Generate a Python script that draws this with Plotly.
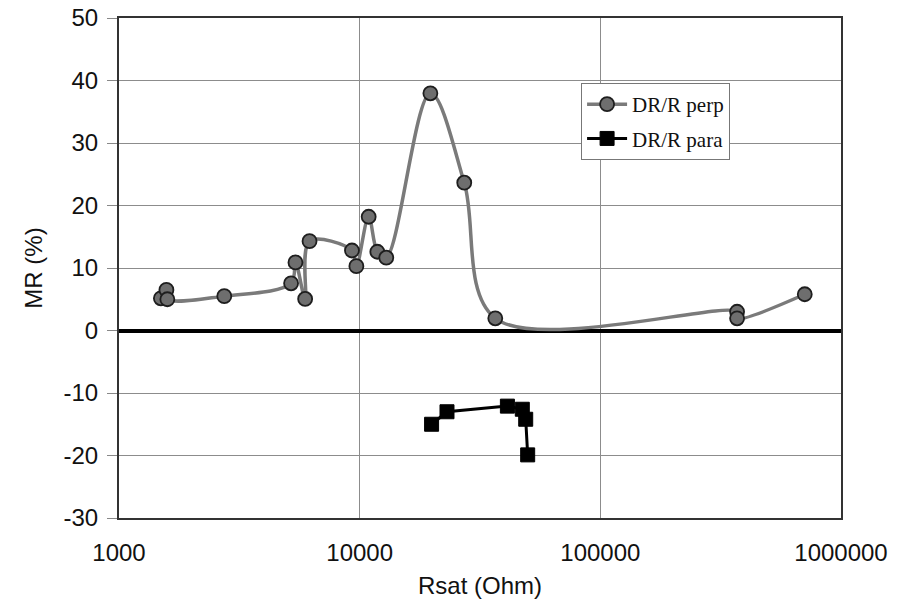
import plotly.graph_objects as go

# Magnetoresistance vs saturation resistance
perp_rsat = [1493, 1574, 1588, 2738, 5188, 5410, 5936, 6190, 9290, 9690,
             10900, 11840, 12900, 19670, 27200, 36600, 370000, 370000, 707000]
perp_mr = [5.15, 6.5, 5.0, 5.5, 7.55, 10.9, 5.05, 14.3, 12.8, 10.3,
           18.2, 12.6, 11.65, 37.95, 23.65, 1.95, 3.0, 1.95, 5.8]

para_rsat = [19900, 23060, 41100, 47400, 48970, 49900]
para_mr = [-15.0, -13.0, -12.1, -12.6, -14.2, -19.9]

y_ticks = [-30, -20, -10, 0, 10, 20, 30, 40, 50]
y_labels = ["-30", "-20", "-10", "0", "10", "20", "30", "40", "50"]
x_ticks = [1000, 10000, 100000, 1000000]
x_labels = ["1000", "10000", "100000", "1000000"]

sans = "Liberation Sans, Arial"

fig = go.Figure()

fig.add_trace(go.Scatter(
    x=perp_rsat, y=perp_mr, name="DR/R perp", mode="lines+markers",
    line=dict(color="#7a7a7a", width=3.5, shape="spline", smoothing=1.0),
    marker=dict(symbol="circle", size=14, color="#6e6e6e",
                line=dict(color="#1e1e1e", width=1.8)),
    legendgroup="a",
))
fig.add_trace(go.Scatter(
    x=para_rsat, y=para_mr, name="DR/R para", mode="lines+markers",
    line=dict(color="#000000", width=3),
    marker=dict(symbol="square", size=14, color="#000000",
                line=dict(color="#000000", width=1)),
    legendgroup="b",
))

fig.update_layout(
    width=913, height=608,
    margin=dict(l=119, r=72, t=18, b=90, autoexpand=False),
    paper_bgcolor="white", plot_bgcolor="white",
    showlegend=True,
    legend=dict(
        x=0.64, y=0.87, xanchor="left", yanchor="top",
        bgcolor="white", bordercolor="#777777", borderwidth=1,
        font=dict(family="Liberation Serif", size=21, color="#111111"),
        traceorder="grouped", tracegroupgap=4,
        itemwidth=40,
    ),
    font=dict(family=sans, size=24, color="#111111"),
)

fig.update_xaxes(
    type="log", range=[3, 6], automargin=False,
    tickvals=x_ticks, ticktext=x_labels,
    showgrid=True, gridcolor="#8c8c8c", gridwidth=1,
    showline=True, linecolor="#333333", linewidth=2, mirror=True,
    ticks="", ticklabelstandoff=12,
    title=dict(text="Rsat (Ohm)", standoff=12, font=dict(family=sans, size=24)),
    tickfont=dict(family=sans, size=24),
)
fig.update_yaxes(
    range=[-30, 50], automargin=False,
    tickvals=y_ticks, ticktext=y_labels,
    showgrid=True, gridcolor="#8c8c8c", gridwidth=1,
    showline=True, linecolor="#333333", linewidth=2, mirror=True,
    ticks="outside", ticklen=10, tickcolor="#888888", tickwidth=1,
    ticklabelstandoff=4,
    zeroline=True, zerolinecolor="#000000", zerolinewidth=4,
    title=dict(text="MR (%)", standoff=14, font=dict(family=sans, size=24)),
    tickfont=dict(family=sans, size=24),
)

fig.write_html("out.html")
